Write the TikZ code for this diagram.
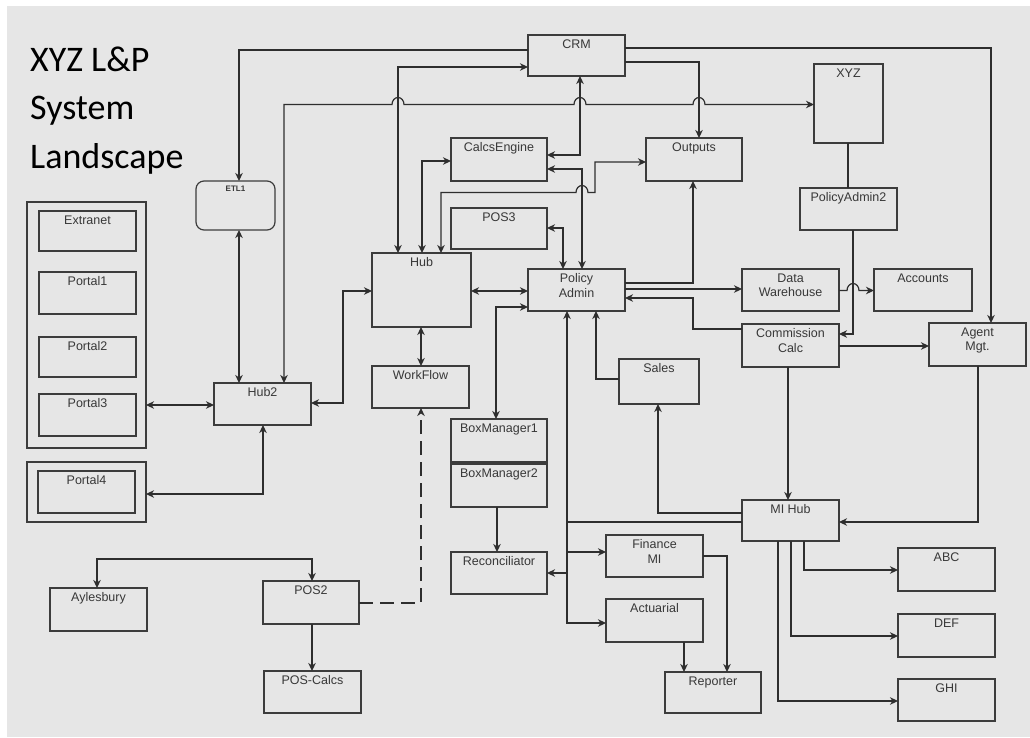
\documentclass[tikz,border=0pt]{standalone}
\usepackage{fontspec}
\setmainfont{Liberation Sans}
\newfontfamily\titlefont{Carlito}
\usetikzlibrary{arrows.meta}

\definecolor{bggray}{HTML}{E6E6E6}
\definecolor{inkgray}{HTML}{2E2E2E}
\definecolor{framegray}{HTML}{3C3C3C}
\definecolor{txtgray}{HTML}{383838}

\tikzset{
  sys/.style={draw=framegray, line width=1.2pt, rectangle, inner sep=0pt, outer sep=0pt},
  lbl/.style={anchor=north, inner sep=0pt, yshift=-4.5pt, align=center, text=txtgray,
              font=\fontsize{12.5}{14.5}\selectfont},
  conn/.style={draw=inkgray, line width=1.2pt},
  tipend/.style={-{Stealth[length=8pt,width=7.5pt,inset=2.5pt]}},
  tipboth/.style={{Stealth[length=8pt,width=7.5pt,inset=2.5pt]}-{Stealth[length=8pt,width=7.5pt,inset=2.5pt]}},
  dashedlink/.style={dash pattern=on 14pt off 7pt},
}

% \sysbox[opts]{name}{x1}{y1}{x2}{y2}{label}
\newcommand\sysbox[7][]{%
  \node[sys,#1,minimum width={(#5-#3)*1pt},minimum height={(#6-#4)*1pt},
        label={[lbl]above:{#7}}] (#2) at ({(#3+#5)/2},{(#4+#6)/2}) {};}

\begin{document}
\begin{tikzpicture}[x=1pt,y=-1pt]
\useasboundingbox (0,0) rectangle (1030,738);
\fill[white] (0,0) rectangle (1030,738);
\fill[bggray] (7,6) rectangle (1030,737);

% title
\node[anchor=north west, inner sep=0pt, align=left, text=black,
      font=\titlefont\fontsize{36}{48.5}\selectfont] (title) at (30,46.5)
      {XYZ L\&P\\System\\Landscape};

% systems
\node[sys, rounded corners=8pt, minimum width=79pt, minimum height=49pt,
      label={[lbl, yshift=-0.5pt, font=\bfseries\fontsize{8}{9}\selectfont]above:ETL1}] (etl) at (235.5,205.5) {};
\sysbox{portalgrp}{27}{202}{146}{448}{}
\sysbox{extranet}{39}{211}{136}{251}{Extranet}
\sysbox{portal1}{39}{272}{136}{314}{Portal1}
\sysbox{portal2}{39}{337}{136}{377}{Portal2}
\sysbox{portal3}{39}{394}{136}{436}{Portal3}
\sysbox{portal4grp}{27}{462}{146}{522}{}
\sysbox{portal4}{38}{471}{135}{513}{Portal4}
\sysbox{hubtwo}{214}{383}{311}{425}{Hub2}
\sysbox{crm}{528}{35}{625}{76}{CRM}
\sysbox{calcs}{451}{138}{547}{181}{CalcsEngine}
\sysbox{pos3}{451}{208}{547}{249}{POS3}
\sysbox{outputs}{646}{138}{742}{181}{Outputs}
\sysbox{xyz}{814}{64}{883}{143}{XYZ}
\sysbox{pa2}{800}{188}{897}{230}{PolicyAdmin2}
\sysbox{hub}{372}{253}{471}{327}{Hub}
\sysbox{pa}{528}{269}{625}{311}{Policy\\Admin}
\sysbox{dw}{742}{269}{839}{311}{Data\\Warehouse}
\sysbox{accounts}{874}{269}{972}{311}{Accounts}
\sysbox{comm}{742}{324}{839}{367}{Commission\\Calc}
\sysbox{agent}{929}{323}{1026}{366}{Agent\\Mgt.}
\sysbox{workflow}{372}{366}{469}{408}{WorkFlow}
\sysbox{sales}{619}{359}{699}{404}{Sales}
\sysbox{bmone}{451}{419}{547}{462}{BoxManager1}
\sysbox{bmtwo}{451}{464}{547}{507}{BoxManager2}
\sysbox{mihub}{742}{500}{839}{541}{MI Hub}
\sysbox{recon}{451}{552}{547}{594}{Reconciliator}
\sysbox{finmi}{606}{535}{703}{577}{Finance\\MI}
\sysbox{actuarial}{606}{599}{703}{642}{Actuarial}
\sysbox{abc}{898}{548}{995}{591}{ABC}
\sysbox{def}{898}{614}{995}{657}{DEF}
\sysbox{ghi}{898}{679}{995}{721}{GHI}
\sysbox{aylesbury}{50}{588}{147}{631}{Aylesbury}
\sysbox{pos2}{263}{581}{359}{624}{POS2}
\sysbox{poscalcs}{264}{671}{361}{713}{POS-Calcs}
\sysbox{reporter}{665}{672}{761}{713}{Reporter}

% links around CRM
\draw[conn,tipend] (crm.west |- 0,50) -| (239,0 |- etl.north);
\draw[conn,tipboth] (239,0 |- etl.south) -- (239,0 |- hubtwo.north);
\draw[conn,tipboth] (284,0 |- hubtwo.north) -- (284,104.5) -- (392,104.5)
  arc[start angle=180,end angle=0,x radius=6pt,y radius=7pt] -- (574,104.5)
  arc[start angle=180,end angle=0,x radius=6pt,y radius=7pt] -- (693,104.5)
  arc[start angle=180,end angle=0,x radius=6pt,y radius=7pt] -- (xyz.west |- 0,104.5);
\draw[conn,tipboth] (398,0 |- hub.north) |- (crm.west |- 0,67);
\draw[conn,tipboth] (calcs.east |- 0,155) -| (580,0 |- crm.south);
\draw[conn,tipend] (crm.east |- 0,62) -| (699,0 |- outputs.north);
\draw[conn,tipend] (crm.east |- 0,48) -| (991,0 |- agent.north);

% Hub links
\draw[conn,tipboth] (422,0 |- hub.north) |- (calcs.west |- 0,161);
\draw[conn,tipboth] (calcs.east |- 0,169) -| (582,0 |- pa.north);
\draw[conn,tipboth] (441,0 |- hub.north) -- (441,192.5) -- (576,192.5)
  arc[start angle=180,end angle=0,x radius=6pt,y radius=7pt] -- (595,192.5)
  -- (595,162) -- (outputs.west |- 0,162);
\draw[conn,tipboth] (pos3.east |- 0,228) -| (563,0 |- pa.north);
\draw[conn,tipboth] (hub.east |- 0,291) -- (pa.west |- 0,291);
\draw[conn,tipboth] (hub.west |- 0,291) -| (343,403) -- (hubtwo.east |- 0,403);
\draw[conn,tipboth] (421,0 |- hub.south) -- (421,0 |- workflow.north);
\draw[conn,tipend,dashedlink] (pos2.east |- 0,603) -| (421,0 |- workflow.south);

% Policy Admin links
\draw[conn,tipend] (pa.east |- 0,283) -| (693,0 |- outputs.south);
\draw[conn,tipend] (pa.east |- 0,289) -- (dw.west |- 0,289);
\draw[conn,tipend] (comm.west |- 0,329) -| (693,298) -- (pa.east |- 0,298);
\draw[conn,tipboth] (pa.west |- 0,307) -| (496,0 |- bmone.north);
\draw[conn,tipend] (sales.west |- 0,379) -| (596,0 |- pa.south);

% XYZ, PolicyAdmin2, Commission Calc
\draw[conn] (848,0 |- xyz.south) -- (848,0 |- pa2.north);
\draw[conn,tipend] (853,0 |- pa2.south) |- (comm.east |- 0,334);
\draw[conn,tipend] (dw.east |- 0,290.5) -- (847,290.5)
  arc[start angle=180,end angle=0,x radius=6pt,y radius=7pt] -- (accounts.west |- 0,290.5);
\draw[conn,tipend] (comm.east |- 0,346) -- (agent.west |- 0,346);
\draw[conn,tipend] (788,0 |- comm.south) -- (788,0 |- mihub.north);
\draw[conn,tipend] (978,0 |- agent.south) |- (mihub.east |- 0,522);

% MI Hub distribution
\coordinate (trunk) at (567,522);
\coordinate (trunkfin) at (567,552);
\coordinate (trunkrec) at (567,573);
\draw[conn,tipend] (mihub.west |- 0,513) -| (658,0 |- sales.south);
\draw[conn,tipend] (mihub.west |- 0,522) -- (trunk) -- (567,0 |- pa.south);
\draw[conn,tipend] (trunk) |- (actuarial.west |- 0,623);
\draw[conn,tipend] (trunkfin) -- (finmi.west |- trunkfin);
\draw[conn,tipend] (trunkrec) -- (recon.east |- trunkrec);
\draw[conn,tipend] (684,0 |- actuarial.south) -- (684,0 |- reporter.north);
\draw[conn,tipend] (finmi.east |- 0,556) -| (727,0 |- reporter.north);
\draw[conn,tipend] (804,0 |- mihub.south) |- (abc.west |- 0,570);
\draw[conn,tipend] (791,0 |- mihub.south) |- (def.west |- 0,636);
\draw[conn,tipend] (778,0 |- mihub.south) |- (ghi.west |- 0,701);

% box managers
\draw[conn,tipend] (497,0 |- bmtwo.south) -- (497,0 |- recon.north);

% Hub2, portals and POS2
\draw[conn,tipboth] (portalgrp.east |- 0,405) -- (hubtwo.west |- 0,405);
\draw[conn,tipboth] (263,0 |- hubtwo.south) |- (portal4grp.east |- 0,494);
\draw[conn,tipboth] (97,0 |- aylesbury.north) |- (312,559) -- (312,0 |- pos2.north);
\draw[conn,tipend] (312,0 |- pos2.south) -- (312,0 |- poscalcs.north);
\end{tikzpicture}
\end{document}
